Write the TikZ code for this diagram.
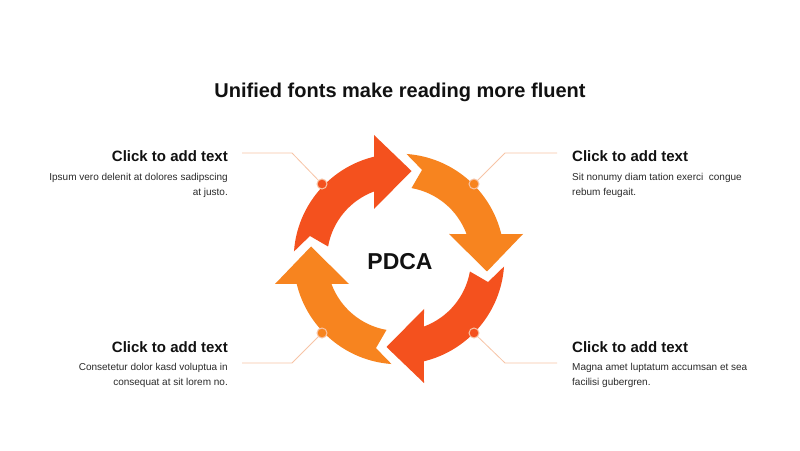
\documentclass[tikz,border=0pt]{standalone}
\usepackage{fontspec}
\setmainfont{Liberation Sans}
\definecolor{arrdark}{HTML}{F4511E}
\definecolor{arrlight}{HTML}{F7841F}
\definecolor{leader}{HTML}{F7C4A6}
\definecolor{bodygray}{HTML}{2A2A2A}
\definecolor{headblack}{HTML}{111111}
\tikzset{
  pics/cyclearrow/.style={code={
    \fill[#1] (175.9:105.3) -- (165.5:92) -- (170:72)
      arc[start angle=170,end angle=110.3,radius=72]
      -- (-25,50) -- (12.5,88) -- (-25,124) -- (103.7:105.3)
      arc[start angle=103.7,end angle=175.9,radius=105.3] -- cycle;
  }},
  dotmark/.style={circle,minimum size=10pt,inner sep=0pt,draw=leader,line width=1pt},
  leaderline/.style={draw=leader,line width=0.8pt},
  headtxt/.style={inner sep=0pt,text=headblack,font=\fontsize{15}{18}\selectfont\bfseries},
  bodytxt/.style={inner sep=0pt,text=bodygray,font=\fontsize{10}{14.5}\selectfont},
}
\begin{document}
\begin{tikzpicture}[x=1pt,y=1pt]
\useasboundingbox (0,0) rectangle (800,450);
\fill[white] (0,0) rectangle (800,450);
% title
\node[inner sep=0pt,anchor=base,text=headblack,font=\fontsize{20}{24}\selectfont\bfseries] (title) at (400,352) {Unified fonts make reading more fluent};
% arrows
\coordinate (c) at (399,191);
\pic at (c) {cyclearrow=arrdark};
\pic[rotate=-90] at (c) {cyclearrow=arrlight};
\pic[rotate=-180] at (c) {cyclearrow=arrdark};
\pic[rotate=-270] at (c) {cyclearrow=arrlight};
\node[inner sep=0pt,anchor=base,text=headblack,font=\fontsize{23}{26}\selectfont\bfseries] (pdca) at (400,180) {PDCA};
% leader lines
\coordinate (k1) at (292,297); \coordinate (e1) at (242,297);
\coordinate (k2) at (505,297); \coordinate (e2) at (557,297);
\coordinate (k3) at (292,87);  \coordinate (e3) at (242,87);
\coordinate (k4) at (505,87);  \coordinate (e4) at (557,87);
\node[dotmark,fill=arrdark] (d1) at (322,266) {};
\node[dotmark,fill=arrlight] (d2) at (474,266) {};
\node[dotmark,fill=arrlight] (d3) at (322,117) {};
\node[dotmark,fill=arrdark] (d4) at (474,117) {};
\draw[leaderline] (d1) -- (k1) -- (e1);
\draw[leaderline] (d2) -- (k2) -- (e2);
\draw[leaderline] (d3) -- (k3) -- (e3);
\draw[leaderline] (d4) -- (k4) -- (e4);
% texts
\node[headtxt,anchor=base east] (h1) at (228,288) {Click to add text};
\node[bodytxt,anchor=base east,align=right] (b1) at (228,254.5) {Ipsum vero delenit at dolores sadipscing\\at justo.};
\node[headtxt,anchor=base west] (h2) at (572,288) {Click to add text};
\node[bodytxt,anchor=base west,align=left] (b2) at (572,254.5) {Sit nonumy diam tation exerci~ congue\\rebum feugait.};
\node[headtxt,anchor=base east] (h3) at (228,98) {Click to add text};
\node[bodytxt,anchor=base east,align=right] (b3) at (228,65) {Consetetur dolor kasd voluptua in\\consequat at sit lorem no.};
\node[headtxt,anchor=base west] (h4) at (572,98) {Click to add text};
\node[bodytxt,anchor=base west,align=left] (b4) at (572,65) {Magna amet luptatum accumsan et sea\\facilisi gubergren.};
\end{tikzpicture}
\end{document}
